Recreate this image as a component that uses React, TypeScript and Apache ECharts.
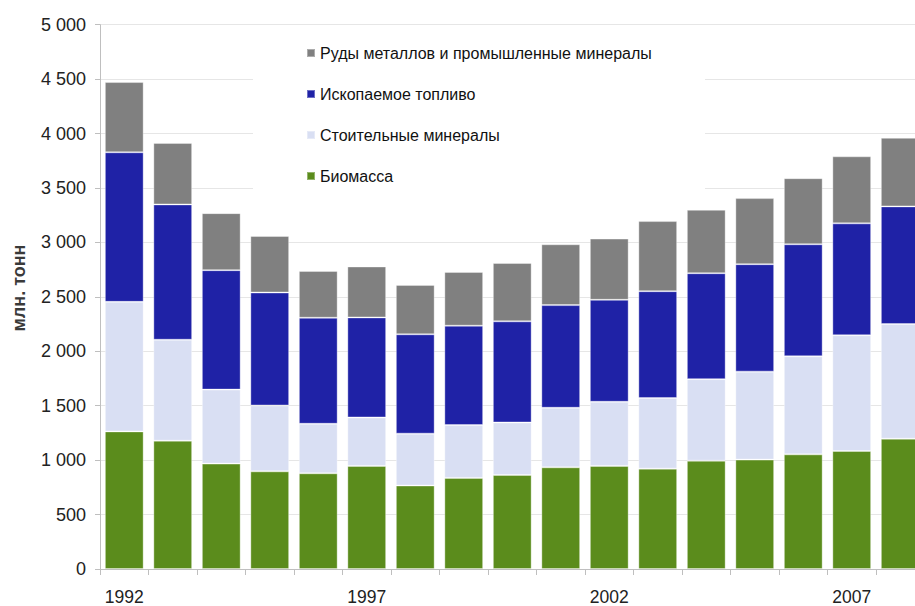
import React, { useEffect, useRef } from "react";
import * as echarts from "echarts";

const years = ["1992","1993","1994","1995","1996","1997","1998","1999","2000","2001","2002","2003","2004","2005","2006","2007","2008"];
const biomass = [1264,1179,968,897,879,947,767,837,864,934,947,922,995,1005,1053,1084,1197];
const construction = [1190,927,680,605,455,445,476,485,482,547,589,648,749,808,901,1063,1053];
const fossil = [1374,1243,1097,1038,974,919,913,913,929,943,937,982,973,987,1029,1028,1081];
const ores = [645,565,524,519,430,468,454,494,536,559,562,644,583,607,607,616,630];

const seriesNames = [
  "Биомасса",
  "Стоительные минералы",
  "Ископаемое топливо",
  "Руды металлов и промышленные минералы",
];
const legendOrder = [
  "Руды металлов и промышленные минералы",
  "Ископаемое топливо",
  "Стоительные минералы",
  "Биомасса",
];
const colors = ["#5B8C1C", "#D9DFF3", "#1F22A6", "#808080"];
const yAxisTitle = "млн. тонн";

function fmt(v: number): string {
  if (v >= 1000) {
    return Math.floor(v / 1000) + " " + String(v % 1000).padStart(3, "0");
  }
  return String(v);
}

export default function App() {
  const ref = useRef<HTMLDivElement>(null);
  useEffect(() => {
    if (!ref.current) return;
    const chart = echarts.init(ref.current, undefined, { renderer: "svg" });
    const dataSets = [biomass, construction, fossil, ores];
    chart.setOption({
      animation: false,
      backgroundColor: "#ffffff",
      grid: { left: 100, right: 5.5, top: 24.7, bottom: 35.3, containLabel: false },
      legend: {
        data: legendOrder,
        orient: "vertical",
        left: 306,
        top: 43,
        padding: 0,
        itemWidth: 8,
        itemHeight: 8,
        itemGap: 21,
        icon: "rect",
        selectedMode: false,
        textStyle: { fontSize: 16, lineHeight: 20, color: "#111", fontFamily: "Liberation Sans, Arial, sans-serif" },
      },
      graphic: [
        {
          type: "rect",
          z: 1,
          shape: { x: 253, y: 28, width: 452, height: 185 },
          style: { fill: "#ffffff" },
          silent: true,
        },
        {
          type: "text",
          x: 18.7,
          y: 288,
          rotation: Math.PI / 2,
          style: {
            text: yAxisTitle,
            fontSize: 18,
            fontWeight: "bold",
            fontFamily: "Liberation Sans, Arial, sans-serif",
            fill: "#3a3a3a",
            textAlign: "center",
            textVerticalAlign: "middle",
          },
        },
      ],
      xAxis: {
        type: "category",
        data: years,
        boundaryGap: true,
        axisLine: { show: true, lineStyle: { color: "#BFBFBF", width: 1 } },
        axisTick: { show: true, interval: 0, length: 6, lineStyle: { color: "#BFBFBF" } },
        axisLabel: {
          interval: 4,
          margin: 19,
          fontSize: 17.5,
          color: "#222",
          fontFamily: "Liberation Sans, Arial, sans-serif",
        },
        splitLine: { show: false },
      },
      yAxis: {
        type: "value",
        min: 0,
        max: 5000,
        interval: 500,
        axisLine: { show: true, lineStyle: { color: "#BFBFBF", width: 1 } },
        axisTick: { show: true, length: 5, lineStyle: { color: "#BFBFBF" } },
        axisLabel: {
          margin: 14,
          fontSize: 18,
          color: "#222",
          fontFamily: "Liberation Sans, Arial, sans-serif",
          formatter: (v: number) => fmt(v),
        },
        splitLine: { show: true, lineStyle: { color: "#E6E6E6", width: 1 } },
      },
      series: dataSets.map((d, i) => ({
        name: seriesNames[i],
        type: "bar",
        stack: "total",
        data: d,
        barCategoryGap: "20%",
        z: 2,
        itemStyle: { color: colors[i], borderColor: "rgba(255,255,255,0.35)", borderWidth: 1 },
        emphasis: { disabled: true },
      })),
    });
    return () => chart.dispose();
  }, []);
  return (
    <div style={{ position: "absolute", left: 0, top: 0, width: 915, height: 606, overflow: "hidden", background: "#fff" }}>
      <div ref={ref} style={{ width: 930, height: 606 }} />
    </div>
  );
}
